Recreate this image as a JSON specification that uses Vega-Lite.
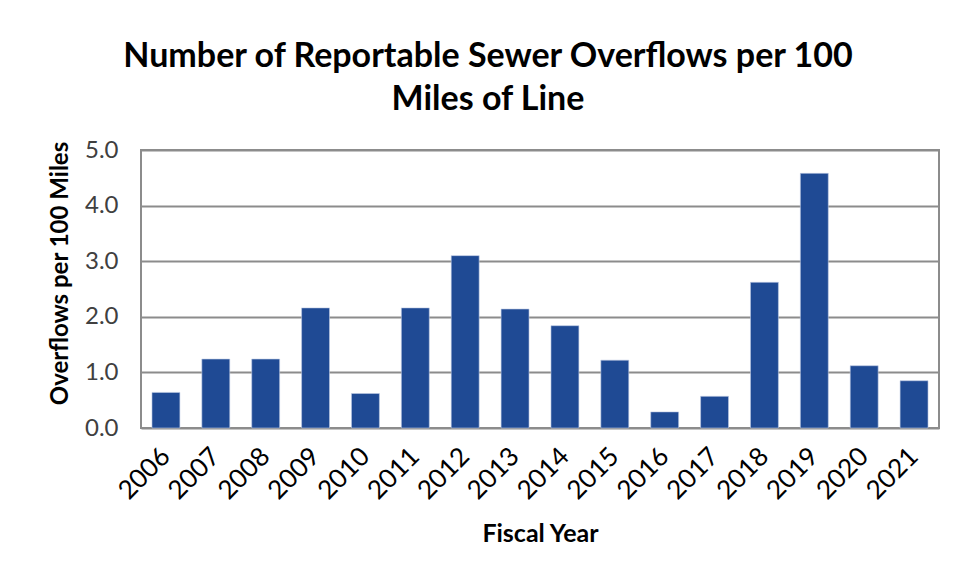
{
  "$schema": "https://vega.github.io/schema/vega-lite/v6.json",
  "width": 798,
  "height": 278,
  "autosize": {"type": "none"},
  "padding": {"left": 141, "top": 150, "right": 20, "bottom": 149},
  "background": "white",
  "title": {
    "text": ["Number of Reportable Sewer Overflows per 100", "Miles of Line"],
    "font": "Lato",
    "fontSize": 34,
    "fontWeight": "bold",
    "color": "#000000",
    "anchor": "middle",
    "frame": "group",
    "dx": -52,
    "lineHeight": 43,
    "offset": 21
  },
  "data": {
    "values": [
      {"year": "2006", "value": 0.64},
      {"year": "2007", "value": 1.24},
      {"year": "2008", "value": 1.24},
      {"year": "2009", "value": 2.16},
      {"year": "2010", "value": 0.62},
      {"year": "2011", "value": 2.16},
      {"year": "2012", "value": 3.10},
      {"year": "2013", "value": 2.14},
      {"year": "2014", "value": 1.84},
      {"year": "2015", "value": 1.22},
      {"year": "2016", "value": 0.29},
      {"year": "2017", "value": 0.57},
      {"year": "2018", "value": 2.62},
      {"year": "2019", "value": 4.58},
      {"year": "2020", "value": 1.12},
      {"year": "2021", "value": 0.85}
    ]
  },
  "mark": {"type": "bar", "color": "#1F4A94", "stroke": "#BFCBE4", "strokeWidth": 0.6},
  "encoding": {
    "x": {
      "field": "year",
      "type": "ordinal",
      "title": "Fiscal Year",
      "scale": {"paddingInner": 0.44, "paddingOuter": 0.22},
      "axis": {
        "labelAngle": -45,
        "labelAlign": "right",
        "labelBaseline": "middle",
        "labelFont": "Lato",
        "labelFontSize": 26,
        "labelColor": "#000000",
        "labelPadding": 24,
        "ticks": false,
        "domain": false,
        "titleFont": "Lato",
        "titleFontSize": 25,
        "titleFontWeight": "bold",
        "titleColor": "#000000",
        "titlePadding": 18
      }
    },
    "y": {
      "field": "value",
      "type": "quantitative",
      "title": "Overflows per 100 Miles",
      "scale": {"domain": [0, 5]},
      "axis": {
        "values": [0, 1, 2, 3, 4, 5],
        "format": ".1f",
        "labelFont": "Lato",
        "labelFontSize": 24,
        "labelColor": "#404040",
        "labelPadding": 23,
        "ticks": false,
        "domain": false,
        "grid": true,
        "gridColor": "#8C8C8C",
        "gridWidth": 2,
        "titleFont": "Lato",
        "titleFontSize": 24,
        "titleFontWeight": "bold",
        "titleColor": "#000000",
        "titlePadding": 12,
        "titleY": 123
      }
    }
  },
  "config": {
    "view": {"stroke": "#8C8C8C", "strokeWidth": 2}
  }
}
